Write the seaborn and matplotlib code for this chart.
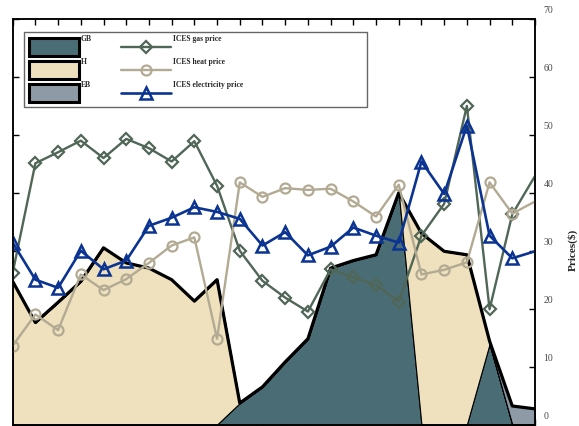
import numpy as np
import matplotlib
matplotlib.use("Agg")
import matplotlib.pyplot as plt
from matplotlib.patches import Patch, Rectangle
from matplotlib.transforms import ScaledTranslation
from matplotlib.legend_handler import HandlerLine2D
import seaborn as sns

# ---- data -------------------------------------------------------------
hours = np.arange(1, 25)

# heat output of each unit (stacked areas, left axis)
gb_output = [0, 0, 0, 0, 0, 0, 0, 0, 0, 0, 3.7, 6.5, 10.8, 14.8, 27.0, 28.3,
             29.3, 40.0, 0, 0, 0, 13.9, 0, 0]
h_output = [24.7, 17.6, 21.1, 24.7, 30.5, 27.9, 27.0, 25.0, 21.3, 25.0, 0, 0,
            0, 0, 0, 0, 0, 0, 33.0, 29.9, 29.3, 0, 0, 0]
eb_output = [0, 0, 0, 0, 0, 0, 0, 0, 0, 0, 0, 0, 0, 0, 0, 0, 0, 0, 0, 0, 0,
             0.5, 3.2, 2.7]

# ICES prices (right axis)
gas_price = [26.2, 45.1, 47.0, 49.0, 46.0, 49.3, 47.7, 45.4, 48.9, 41.2, 30.0,
             24.8, 21.9, 19.5, 26.8, 25.4, 24.1, 21.2, 32.6, 38.1, 55.0, 19.9,
             36.3, 42.9]
heat_price = [13.6, 19.0, 16.3, 25.9, 23.2, 25.1, 27.9, 30.9, 32.3, 14.8, 41.8,
              39.3, 40.8, 40.5, 40.7, 38.5, 35.9, 41.4, 25.9, 26.7, 28.0, 41.8,
              36.4, 38.5]
elec_price = [31.4, 25.0, 23.6, 30.0, 26.8, 28.3, 34.3, 35.7, 37.5, 36.7, 35.5,
              30.9, 33.2, 29.2, 30.7, 34.0, 32.6, 31.4, 45.4, 39.8, 51.6, 32.6,
              28.7, 29.9]

area_labels = ["GB", "H", "EB"]
price_labels = ["ICES gas price", "ICES heat price", "ICES electricity price"]
price_ticks = list(range(0, 80, 10))

# ---- style ------------------------------------------------------------
sns.set_style("ticks")
plt.rcParams["font.family"] = ["Liberation Serif", "DejaVu Serif"]
plt.rcParams["axes.linewidth"] = 1.1

c_gb, c_h, c_eb = "#4a6d75", "#efe1be", "#8e9aa5"
c_gas, c_heat, c_elec = "#506657", "#b2aa93", "#0b3492"


class CenteredLineHandler(HandlerLine2D):
    """Legend line drawn through the vertical centre of the handle box."""

    def create_artists(self, legend, orig_handle, xdescent, ydescent,
                       width, height, fontsize, trans):
        artists = super().create_artists(legend, orig_handle, xdescent,
                                         ydescent, width, height, fontsize,
                                         trans)
        for a in artists:
            a.set_ydata(np.asarray(a.get_ydata()) - ydescent / 2)
        return artists


fig = plt.figure(figsize=(5.79, 4.26), dpi=100)
ax = fig.add_axes([0.0219, 0.0035, 0.9021, 0.9519])

# stacked unit outputs
ax.stackplot(hours, gb_output, h_output, eb_output,
             colors=[c_gb, c_h, c_eb], edgecolor="black", linewidth=0.8,
             zorder=1)
total = np.sum([gb_output, h_output, eb_output], axis=0)
ax.plot(hours, total, color="black", lw=2.3, zorder=2)

ax.set_xlim(1, 24)
ax.set_ylim(0, 70)
ax.set_xticks(hours)
ax.set_yticks(price_ticks)
ax.tick_params(axis="both", direction="in", length=4.5, width=1.0,
               top=True, right=False, labelbottom=False, labelleft=False,
               color="black")
for s in ax.spines.values():
    s.set_color("black")

# price lines on the right axis
ax2 = ax.twinx()
marker_kw = dict(markerfacecolor="none", markevery=slice(0, 23), clip_on=True)
sns.lineplot(x=hours, y=gas_price, ax=ax2, color=c_gas, lw=1.7, marker="D",
             markersize=6.2, markeredgewidth=1.6, markeredgecolor=c_gas,
             label=price_labels[0], **marker_kw)
sns.lineplot(x=hours, y=heat_price, ax=ax2, color=c_heat, lw=1.7, marker="o",
             markersize=7.2, markeredgewidth=1.6, markeredgecolor=c_heat,
             label=price_labels[1], **marker_kw)
sns.lineplot(x=hours, y=elec_price, ax=ax2, color=c_elec, lw=1.9, marker="^",
             markersize=8.5, markeredgewidth=1.8, markeredgecolor=c_elec,
             label=price_labels[2], **marker_kw)

ax2.set_xlim(1, 24)
ax2.set_ylim(0, 70)
ax2.set_yticks(price_ticks)
ax2.set_yticklabels([str(t) for t in price_ticks])
ax2.tick_params(axis="y", direction="in", length=4.5, width=1.0, pad=6,
                labelsize=7, labelcolor="#4a4a4a", color="black")
for s in ax2.spines.values():
    s.set_color("black")
ax2.spines["right"].set_linewidth(1.1)

# tick labels sit a little above their ticks
lift = ScaledTranslation(0, 9 / 100, fig.dpi_scale_trans)
for tick in ax2.yaxis.get_major_ticks():
    tick.label2.set_transform(tick.label2.get_transform() + lift)

ax2.set_ylabel("Prices($)", fontsize=8, fontweight="bold", rotation=90)
ax2.yaxis.set_label_coords(1.062, 0.43)

# ---- legend -----------------------------------------------------------
handles = [Patch(facecolor=c, edgecolor="black", linewidth=2.2, label=l)
           for c, l in zip([c_gb, c_h, c_eb], area_labels)]
line_handles = ax2.get_lines()[:3]
handles += line_handles
if ax2.get_legend() is not None:
    ax2.get_legend().remove()

frame = Rectangle((0.0216, 0.783), 0.6567, 0.185, transform=ax2.transAxes,
                  facecolor="white", edgecolor="#666666", lw=1.0, zorder=9)
ax2.add_patch(frame)
leg = ax2.legend(handles=handles, labels=area_labels + price_labels, ncol=2,
                 loc="upper left", bbox_to_anchor=(0.0312, 0.9539),
                 frameon=False, borderpad=0, borderaxespad=0,
                 handlelength=6.5, handleheight=3.26, handletextpad=0.3,
                 labelspacing=0.65, columnspacing=3.8,
                 handler_map={ln: CenteredLineHandler() for ln in line_handles},
                 prop={"family": "Liberation Serif", "weight": "bold",
                       "size": 5.5})
leg.set_zorder(10)
raise_txt = ScaledTranslation(0, 8 / 100, fig.dpi_scale_trans)
for t in leg.get_texts():
    t.set_transform(t.get_transform() + raise_txt)

fig.savefig("out.png", dpi=100)
